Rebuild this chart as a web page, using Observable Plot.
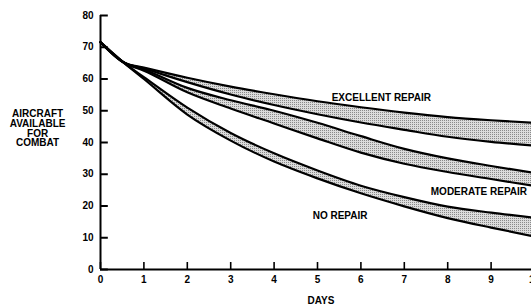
<!DOCTYPE html>
<html><head><meta charset="utf-8">
<script src="https://cdn.jsdelivr.net/npm/d3@7"></script>
<script src="https://cdn.jsdelivr.net/npm/@observablehq/plot@0.6"></script>
<style>html,body{margin:0;padding:0;background:#fff;overflow:hidden}</style>
</head><body>
<svg width="0" height="0" style="position:absolute">
  <defs>
    <pattern id="stipple" width="2" height="2" patternUnits="userSpaceOnUse">
      <rect width="2" height="2" fill="#dcdcdc"></rect>
      <rect width="1" height="1" fill="#8a8a8a"></rect>
    </pattern>
  </defs>
</svg>
<div id="chart"></div>
<script>
// Days (x)
const days = [0, 0.55, 1, 2, 3, 4, 5, 6, 7, 8, 9, 10];
// Excellent repair band
const excellentTop    = [71.6, 65.1, 63.6, 60.4, 57.6, 55.2, 53.0, 51.1, 49.4, 48.0, 47.0, 46.2];
const excellentBottom = [71.6, 65.1, 63.3, 59.0, 55.1, 51.8, 48.9, 46.3, 44.0, 41.8, 40.2, 39.0];
// Moderate repair band
const moderateTop     = [71.6, 65.1, 63.0, 57.2, 53.3, 50.0, 46.2, 42.0, 38.0, 35.0, 32.6, 30.4];
const moderateBottom  = [71.6, 65.1, 62.6, 55.8, 50.7, 46.0, 41.3, 36.8, 33.3, 30.7, 28.5, 26.3];
// No repair band
const noRepairTop     = [71.6, 65.0, 60.6, 51.0, 43.0, 36.6, 31.2, 26.4, 22.8, 19.8, 17.9, 16.3];
const noRepairBottom  = [71.6, 65.0, 60.0, 48.8, 40.6, 34.0, 28.7, 24.0, 19.9, 16.2, 13.2, 10.4];
// Axis ticks
const xTicks = [0, 1, 2, 3, 4, 5, 6, 7, 8, 9, 10];
const yTicks = [0, 10, 20, 30, 40, 50, 60, 70, 80];
// Labels
const bandLabels = ["EXCELLENT REPAIR", "MODERATE REPAIR", "NO REPAIR"];
const yTitle = ["AIRCRAFT", "AVAILABLE", "FOR", "COMBAT"];
const xTitle = "DAYS";

const bands = [
  {name: "excellent", top: excellentTop, bottom: excellentBottom, label: bandLabels[0], lx: 6.47, ly: 54.2},
  {name: "moderate", top: moderateTop, bottom: moderateBottom, label: bandLabels[1], lx: 8.72, ly: 24.4},
  {name: "none", top: noRepairTop, bottom: noRepairBottom, label: bandLabels[2], lx: 5.52, ly: 17.0}
];
const areaRows = bands.flatMap(b => days.map((d, i) => ({band: b.name, day: d, top: b.top[i], bottom: b.bottom[i]})));
const lineRows = bands.flatMap(b => [
  ...days.map((d, i) => ({key: b.name + "-top", day: d, value: b.top[i]})),
  ...days.map((d, i) => ({key: b.name + "-bottom", day: d, value: b.bottom[i]}))
]);

const font = "'Liberation Sans', Arial, Helvetica, sans-serif";
const chart = Plot.plot({
  width: 531, height: 307,
  marginLeft: 100, marginTop: 15, marginBottom: 38, marginRight: 0,
  x: {domain: [0, 10], range: [100, 534]},
  y: {domain: [0, 80], range: [269, 15]},
  style: {fontFamily: font, background: "white", color: "black"},
  marks: [
    Plot.areaY(areaRows, {x: "day", y1: "bottom", y2: "top", z: "band", fill: "url(#stipple)", curve: "monotone-x"}),
    Plot.line(lineRows, {x: "day", y: "value", z: "key", stroke: "black", strokeWidth: 2.2, curve: "monotone-x"}),
    Plot.ruleX([0], {y1: 0, y2: 80, stroke: "black", strokeWidth: 2}),
    Plot.ruleY([0], {x1: 0, x2: 10, stroke: "black", strokeWidth: 2}),
    Plot.ruleY(yTicks, {x1: 0, x2: 0.18, stroke: "black", strokeWidth: 2}),
    Plot.ruleX(xTicks, {y1: 0, y2: 2.2, stroke: "black", strokeWidth: 1.6}),
    Plot.axisY(yTicks, {tickSize: 0, tickPadding: 7, fontSize: 10, fontWeight: "bold", label: null}),
    Plot.axisX(xTicks, {tickSize: 0, tickPadding: 6, fontSize: 10, fontWeight: "bold", label: null}),
    Plot.text([yTitle.join("\n")], {x: -1.45, y: 44.3, fontSize: 10, fontWeight: "bold", lineHeight: 0.97, textAnchor: "middle"}),
    Plot.text([xTitle], {x: 5.08, y: -9.8, fontSize: 10, fontWeight: "bold"}),
    Plot.text(bands, {x: "lx", y: "ly", text: "label", fontSize: 10, fontWeight: "bold"})
  ]
});
document.getElementById("chart").appendChild(chart);
</script>
</body></html>
